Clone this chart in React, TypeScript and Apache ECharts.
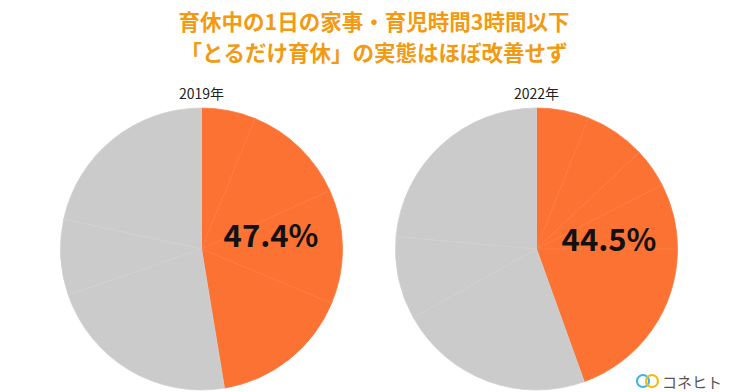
import React, { useEffect, useRef } from "react";
import * as echarts from "echarts";

const titleLines = ["育休中の1日の家事・育児時間3時間以下", "「とるだけ育休」の実態はほぼ改善せず"];
const years = ["2019年", "2022年"];
// slice shares (%), clockwise from 12 o'clock
const shares2019 = [6.2, 12.0, 13.1, 16.1, 22.3, 8.7, 21.6];
const shares2022 = [6.0, 7.0, 4.5, 7.5, 19.5, 22.4, 9.5, 23.6];
// how many leading slices belong to "3時間以下"
const highlightCount = [4, 5];
const brandName = "コネヒト";

const ORANGE = "#FB7233";
const ORANGE_EDGE = "#FC7C42";
const GREY = "#CBCBCB";
const GREY_EDGE = "#D1D1D1";

export default function App() {
  const ref = useRef<HTMLDivElement>(null);
  useEffect(() => {
    if (!ref.current) return;
    const chart = echarts.init(ref.current, null, { renderer: "svg" });
    const allShares = [shares2019, shares2022];
    const centers = [[201.5, 249], [536.5, 249]];
    const labelPos = [[271, 233], [609, 237]];
    const font = "'Noto Sans CJK JP', sans-serif";

    const series = allShares.map((shares, i) => ({
      type: "pie",
      center: centers[i],
      radius: 141,
      startAngle: 90,
      clockwise: true,
      silent: true,
      z: 1,
      label: { show: false },
      labelLine: { show: false },
      data: shares.map((v, j) => {
        const hi = j < highlightCount[i];
        return {
          name: `${years[i]}-${j}`,
          value: v,
          itemStyle: {
            color: hi ? ORANGE : GREY,
            borderColor: hi ? ORANGE_EDGE : GREY_EDGE,
            borderWidth: 0.8,
          },
        };
      }),
    }));

    const pctTexts = allShares.map((shares, i) => {
      const s = shares.slice(0, highlightCount[i]).reduce((a, b) => a + b, 0);
      return {
        type: "text",
        z: 100,
        x: labelPos[i][0],
        y: labelPos[i][1],
        style: {
          text: s.toFixed(1) + "%",
          fill: "#111",
          font: `bold 31px ${font}`,
          textAlign: "center",
          textVerticalAlign: "middle",
        },
      };
    });

    const yearTexts = years.map((y, i) => ({
      type: "text",
      z: 100,
      x: centers[i][0],
      y: 93,
      style: {
        text: y,
        fill: "#222",
        font: `14px ${font}`,
        textAlign: "center",
        textVerticalAlign: "middle",
      },
    }));

    const titleTexts = titleLines.map((t, i) => ({
      type: "text",
      z: 100,
      x: 374,
      y: 20 + i * 31,
      style: {
        text: t,
        fill: "#F29A12",
        font: `bold 21.5px ${font}`,
        textAlign: "center",
        textVerticalAlign: "middle",
      },
    }));

    chart.setOption({
      animation: false,
      backgroundColor: "#fff",
      series,
      graphic: [
        ...titleTexts,
        ...yearTexts,
        ...pctTexts,
        { type: "circle", z: 100, shape: { cx: 643, cy: 381, r: 6 }, style: { fill: "none", stroke: "#3DB5E6", lineWidth: 2 } },
        { type: "circle", z: 100, shape: { cx: 652, cy: 381, r: 6 }, style: { fill: "none", stroke: "#F5B915", lineWidth: 2 } },
        {
          type: "text",
          z: 100,
          x: 662,
          y: 381,
          style: { text: brandName, fill: "#555", font: `15px ${font}`, textAlign: "left", textVerticalAlign: "middle" },
        },
      ],
    });
    return () => chart.dispose();
  }, []);
  return <div ref={ref} style={{ position: "absolute", left: 0, top: 0, width: 746, height: 392 }} />;
}
